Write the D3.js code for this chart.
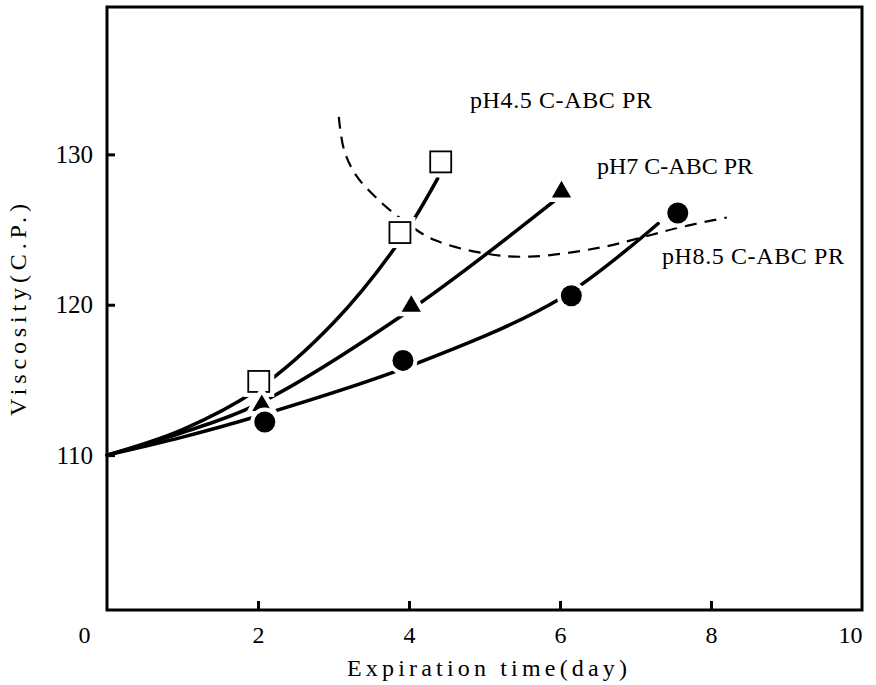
<!DOCTYPE html>
<html>
<head>
<meta charset="utf-8">
<script src="https://cdn.jsdelivr.net/npm/d3@7"></script>
<style>
  body { margin: 0; background: #fff; }
  svg text { fill: #000; }
</style>
</head>
<body>
<div id="chart"></div>
<script>
// measured points (day, viscosity)
var ph45Pts = [[2.01, 114.9], [3.88, 124.8], [4.42, 129.5]];
var ph7Pts  = [[2.05, 113.3], [4.03, 119.9], [6.02, 127.5]];
var ph85Pts = [[2.09, 112.2], [3.92, 116.3], [6.15, 120.6], [7.56, 126.1]];

// fitted curves as drawn in the figure
var ph45Curve = [[0, 110], [1, 111.7], [2, 114.4], [3, 118.8], [3.9, 124.4], [4.38, 128.4]];
var ph7Curve  = [[0, 110], [1, 111.5], [2, 113.4], [4, 119.6], [6, 127.2]];
var ph85Curve = [[0, 110], [1, 111.2], [2, 112.6], [4, 115.9], [6, 120.4], [7.3, 125.4]];
var dashCurve = [[3.07, 132.5], [3.14, 130.3], [3.3, 128.6], [3.59, 127.0], [3.95, 125.5],
                 [4.34, 124.3], [5.02, 123.4], [5.6, 123.2], [6.53, 123.8], [7.1, 124.5],
                 [7.63, 125.2], [8.21, 125.8]];

var xTicks = [0, 2, 4, 6, 8, 10];
var yTicks = [110, 120, 130];
var labels = ["pH4.5 C-ABC PR", "pH7 C-ABC PR", "pH8.5 C-ABC PR"];

var w = 876, h = 685;
var padL = 107, padR = 862, padT = 7, padB = 610;

var svg = d3.select("#chart").append("svg")
    .attr("width", w)
    .attr("height", h);

var xScale = d3.scaleLinear().domain([0, 10]).range([padL, padR]);
var yScale = d3.scaleLinear().domain([99.7, 139.8]).range([padB, padT]);

// frame
svg.append("rect")
    .attr("x", padL).attr("y", padT)
    .attr("width", padR - padL).attr("height", padB - padT)
    .attr("fill", "none").attr("stroke", "#000").attr("stroke-width", 3);

// x axis, ticks pointing inward
var xAxis = d3.axisBottom(xScale)
    .tickValues(xTicks)
    .tickSize(-9)
    .tickPadding(16)
    .tickFormat(d3.format("d"));

var gx = svg.append("g")
    .attr("transform", "translate(0," + padB + ")")
    .call(xAxis);
gx.select(".domain").remove();
gx.selectAll(".tick line")
    .attr("stroke-width", 3)
    .attr("display", function(d) { return (d == 0 || d == 10) ? "none" : null; });
gx.selectAll(".tick text")
    .attr("font-family", "Liberation Serif, serif")
    .attr("font-size", 24)
    .attr("dx", function(d) { return d == 0 ? -23 : (d == 10 ? -12 : 0); });

// y axis
var yAxis = d3.axisLeft(yScale)
    .tickValues(yTicks)
    .tickSize(-8)
    .tickPadding(14);

var gy = svg.append("g")
    .attr("transform", "translate(" + padL + ",0)")
    .call(yAxis);
gy.select(".domain").remove();
gy.selectAll(".tick line").attr("stroke-width", 3);
gy.selectAll(".tick text")
    .attr("font-family", "Liberation Serif, serif")
    .attr("font-size", 25);

// axis titles
svg.append("text")
    .attr("x", 487).attr("y", 676)
    .attr("text-anchor", "middle")
    .attr("font-family", "Liberation Serif, serif")
    .attr("font-size", 24)
    .attr("textLength", 280)
    .text("Expiration time(day)");

svg.append("text")
    .attr("transform", "translate(26,310) rotate(-90)")
    .attr("text-anchor", "middle")
    .attr("font-family", "Liberation Serif, serif")
    .attr("font-size", 24)
    .attr("textLength", 212)
    .text("Viscosity(C.P.)");

var line = d3.line()
    .x(function(d) { return xScale(d[0]); })
    .y(function(d) { return yScale(d[1]); })
    .curve(d3.curveCatmullRom);

// dashed curve
svg.append("path")
    .datum(dashCurve)
    .attr("d", line)
    .attr("fill", "none")
    .attr("stroke", "#000")
    .attr("stroke-width", 2.2)
    .attr("stroke-dasharray", "12,8");

// fitted solid curves
[ph45Curve, ph7Curve, ph85Curve].forEach(function(c) {
    svg.append("path")
        .datum(c)
        .attr("d", line)
        .attr("fill", "none")
        .attr("stroke", "#000")
        .attr("stroke-width", 3.5)
        .attr("stroke-linecap", "round");
});

// markers with white halo
svg.append("g").selectAll("rect")
    .data(ph45Pts)
    .enter()
    .append("rect")
        .attr("x", function(d) { return xScale(d[0]) - 10.5; })
        .attr("y", function(d) { return yScale(d[1]) - 10.5; })
        .attr("width", 21).attr("height", 21)
        .attr("fill", "#fff")
        .attr("stroke", "#fff")
        .attr("stroke-width", 10);
svg.append("g").selectAll("rect")
    .data(ph45Pts)
    .enter()
    .append("rect")
        .attr("x", function(d) { return xScale(d[0]) - 10.5; })
        .attr("y", function(d) { return yScale(d[1]) - 10.5; })
        .attr("width", 21).attr("height", 21)
        .attr("fill", "#fff")
        .attr("stroke", "#000")
        .attr("stroke-width", 1.8);

var tri = d3.symbol().type(d3.symbolTriangle).size(160);
svg.append("g").selectAll("path")
    .data(ph7Pts)
    .enter()
    .append("path")
        .attr("d", tri)
        .attr("transform", function(d) { return "translate(" + xScale(d[0]) + "," + yScale(d[1]) + ")"; })
        .attr("fill", "#000")
        .attr("stroke", "#fff")
        .attr("stroke-width", 9)
        .attr("paint-order", "stroke");

svg.append("g").selectAll("circle")
    .data(ph85Pts)
    .enter()
    .append("circle")
        .attr("cx", function(d) { return xScale(d[0]); })
        .attr("cy", function(d) { return yScale(d[1]); })
        .attr("r", 10.5)
        .attr("fill", "#000")
        .attr("stroke", "#fff")
        .attr("stroke-width", 8)
        .attr("paint-order", "stroke");

// curve labels
var labelPos = [[470, 108], [597, 174], [662, 264]];
svg.append("g").selectAll("text")
    .data(labels)
    .enter()
    .append("text")
        .attr("x", function(d, i) { return labelPos[i][0]; })
        .attr("y", function(d, i) { return labelPos[i][1]; })
        .attr("font-family", "Liberation Serif, serif")
        .attr("font-size", 24)
        .attr("textLength", function(d) { return d.length * 13; })
        .text(function(d) { return d; });
</script>
</body>
</html>
